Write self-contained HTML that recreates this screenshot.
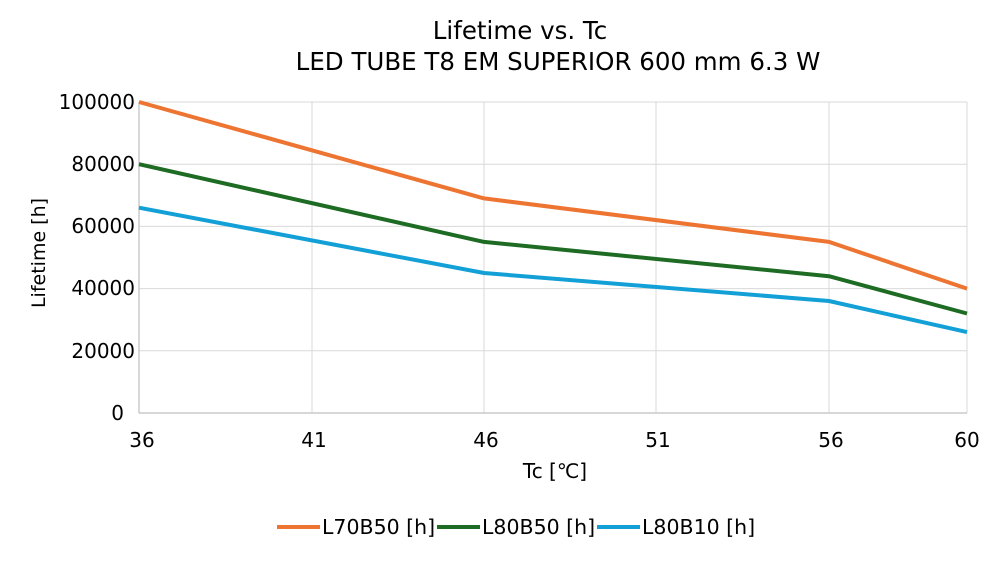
<!DOCTYPE html>
<html><head><meta charset="utf-8"><style>
body{margin:0;background:#fff;}
svg text{font-family:"DejaVu Sans","Liberation Sans",sans-serif;fill:#000;}
</style></head><body>
<svg width="1000" height="560" viewBox="0 0 1000 560" xmlns="http://www.w3.org/2000/svg">
<rect width="1000" height="560" fill="#fff"/>
<text x="520" y="39" font-size="24.5" text-anchor="middle">Lifetime vs. Tc</text>
<text x="558" y="70" font-size="24.5" text-anchor="middle">LED TUBE T8 EM SUPERIOR 600 mm 6.3 W</text>
<g stroke="#d9d9d9" stroke-width="1">
<line x1="139" y1="102" x2="967" y2="102"/>
<line x1="139" y1="164.2" x2="967" y2="164.2"/>
<line x1="139" y1="226.4" x2="967" y2="226.4"/>
<line x1="139" y1="288.6" x2="967" y2="288.6"/>
<line x1="139" y1="350.8" x2="967" y2="350.8"/>
<line x1="312" y1="102" x2="312" y2="413"/>
<line x1="484" y1="102" x2="484" y2="413"/>
<line x1="656" y1="102" x2="656" y2="413"/>
<line x1="829" y1="102" x2="829" y2="413"/>
<line x1="967" y1="102" x2="967" y2="413"/>
</g>
<g stroke="#bfbfbf" stroke-width="1.2">
<line x1="139" y1="102" x2="139" y2="413"/>
<line x1="139" y1="413" x2="967" y2="413"/>
</g>
<g font-size="20" text-anchor="end">
<text x="135" y="109">100000</text>
<text x="135" y="171">80000</text>
<text x="135" y="233">60000</text>
<text x="135" y="295">40000</text>
<text x="135" y="358">20000</text>
<text x="124" y="420">0</text>
</g>
<g font-size="20" text-anchor="middle">
<text x="142" y="447">36</text>
<text x="314" y="447">41</text>
<text x="486" y="447">46</text>
<text x="658" y="447">51</text>
<text x="831" y="447">56</text>
<text x="967" y="447">60</text>
</g>
<text x="555" y="478" font-size="20" text-anchor="middle">Tc [℃]</text>
<text transform="translate(45,253) rotate(-90)" font-size="19" text-anchor="middle">Lifetime [h]</text>
<g fill="none" stroke-width="4" stroke-linejoin="round">
<polyline stroke="#ed7431" points="139,102 484,198.4 829,241.9 967,288.6"/>
<polyline stroke="#1e6b24" points="139,164.2 484,241.9 829,276.2 967,313.5"/>
<polyline stroke="#12a0d7" points="139,207.7 484,273 829,301 967,332.1"/>
</g>
<g stroke-width="4">
<line x1="277" y1="527" x2="320" y2="527" stroke="#ed7431"/>
<line x1="437" y1="527" x2="480" y2="527" stroke="#1e6b24"/>
<line x1="597" y1="527" x2="640" y2="527" stroke="#12a0d7"/>
</g>
<g font-size="20.5">
<text x="322" y="534">L70B50 [h]</text>
<text x="482" y="534">L80B50 [h]</text>
<text x="642" y="534">L80B10 [h]</text>
</g>
</svg>
</body></html>
